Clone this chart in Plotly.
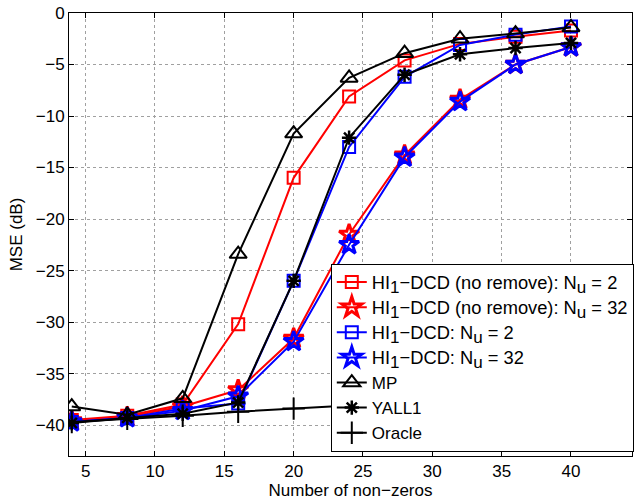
import plotly.graph_objects as go

# Sparsity level (number of non-zeros) on the x axis
nnz = [4, 8, 12, 16, 20, 24, 28, 32, 36, 40]

# MSE in dB for each algorithm
hl1_noremove_nu2 = [-39.5, -39.1, -38.0, -30.2, -16.0, -8.1, -4.6, -3.0, -2.3, -1.7]
hl1_noremove_nu32 = [-39.6, -39.2, -38.2, -36.6, -31.6, -21.5, -13.8, -8.4, -5.0, -3.3]
hl1_nu2 = [-39.7, -39.3, -38.4, -37.9, -26.0, -13.0, -6.2, -3.1, -2.1, -1.3]
hl1_nu32 = [-39.7, -39.3, -38.6, -37.2, -31.9, -22.5, -14.0, -8.6, -5.0, -3.3]
mp = [-38.2, -39.0, -37.4, -23.4, -11.7, -6.3, -3.9, -2.5, -2.0, -1.4]
yall1 = [-39.8, -39.3, -38.9, -37.8, -26.0, -12.1, -6.0, -4.0, -3.4, -2.9]
oracle = [-39.7, -39.4, -39.1, -38.7, -38.4, -38.1, -37.9, -37.7, -37.5, -37.3]


def sub(s):
    # subscript drawn close to full size
    return f"<sub><span style='font-size:17px'>{s}</span></sub>"


def entry(s, px):
    return f"<span style='font-size:{px}px'>{s}</span>"


legend_names = [
    entry(f"HI{sub('1')}−DCD (no remove): N{sub('u')} = 2", 18.3),
    entry(f"HI{sub('1')}−DCD (no remove): N{sub('u')} = 32", 18.3),
    entry(f"HI{sub('1')}−DCD: N{sub('u')} = 2", 18.3),
    entry(f"HI{sub('1')}−DCD: N{sub('u')} = 32", 18.3),
    entry("MP", 17),
    entry("YALL1", 17),
    entry("Oracle", 17),
]

series = [
    (hl1_noremove_nu2, "red", "square-open", 12, 2),
    (hl1_noremove_nu32, "red", "star-open", 15, 3),
    (hl1_nu2, "blue", "square-open", 12, 2),
    (hl1_nu32, "blue", "star-open", 15, 3),
    (mp, "black", "triangle-up-open", 15, 2),
    (yall1, "black", "asterisk-open", 12, 2.5),
    (oracle, "black", "cross-thin-open", 16, 2),
]

FONT = "Liberation Sans, Arial, sans-serif"

fig = go.Figure()
for name, (vals, color, symbol, size, mlw) in zip(legend_names, series):
    fig.add_trace(go.Scatter(
        x=nnz, y=vals, name=name, mode="lines+markers",
        line=dict(color=color, width=2),
        marker=dict(symbol=symbol, size=size, color=color,
                    line=dict(color=color, width=mlw)),
    ))

axis_common = dict(
    showline=True, linecolor="black", linewidth=1, mirror="ticks",
    ticks="inside", ticklen=5, tickcolor="black",
    showgrid=True, gridcolor="#a0a0a0", griddash="dot", gridwidth=1,
    zeroline=False,
    tickfont=dict(family=FONT, size=17, color="black"),
    title_font=dict(family=FONT, size=17, color="black"),
)

fig.update_xaxes(range=[3.8, 44.4], tickvals=[5, 10, 15, 20, 25, 30, 35, 40],
                 title_text="Number of non−zeros", title_standoff=0, **axis_common)
fig.update_yaxes(range=[-43, 0], tickvals=list(range(-40, 1, 5)),
                 title_text="MSE (dB)", title_standoff=8, **axis_common)

fig.update_layout(
    width=642, height=501,
    margin=dict(l=69, r=10, t=13, b=45, autoexpand=False),
    paper_bgcolor="white", plot_bgcolor="white",
    font=dict(family=FONT, color="black"),
    legend=dict(
        x=0.465, y=0.01, xanchor="left", yanchor="bottom",
        bgcolor="white", bordercolor="black", borderwidth=1,
        font=dict(family=FONT, size=17, color="black"),
        tracegroupgap=0, itemwidth=30,
    ),
)

fig.write_html("out.html")
